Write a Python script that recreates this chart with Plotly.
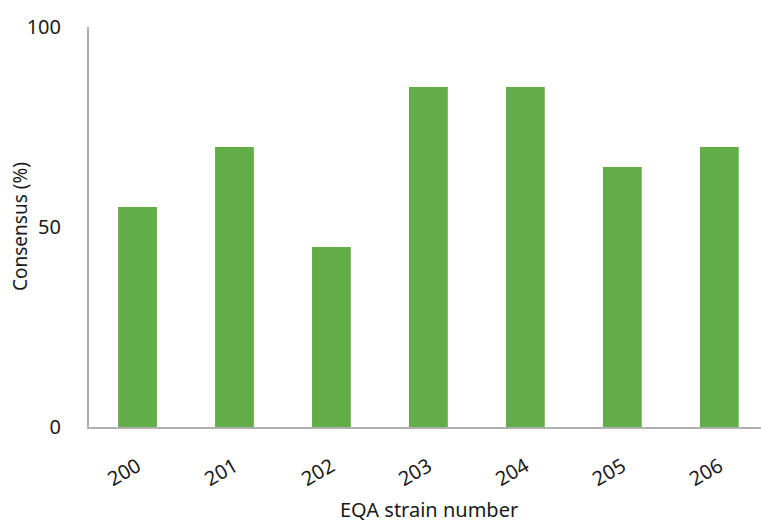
import plotly.graph_objects as go

strains = ["200", "201", "202", "203", "204", "205", "206"]
consensus = [55, 70, 45, 85, 85, 65, 70]

bar_color = "#62ad47"
axis_color = "#b0b0b0"
font_family = "Noto Sans"
text_color = "#1a1a1a"

fig = go.Figure(
    go.Bar(
        x=strains,
        y=consensus,
        marker=dict(color=bar_color, line=dict(width=0)),
        width=0.4,
    )
)

fig.update_layout(
    width=761,
    height=525,
    margin=dict(l=89, r=0, t=27, b=98),
    plot_bgcolor="white",
    paper_bgcolor="white",
    font=dict(family=font_family, size=18, color=text_color),
    showlegend=False,
)

fig.update_xaxes(
    type="category",
    range=[-0.5, 6.43],
    automargin=False,
    tickangle=-30,
    showline=True,
    linecolor=axis_color,
    linewidth=2,
    showgrid=False,
    ticks="",
    ticklabelstandoff=18,
    tickfont=dict(size=20),
)

fig.update_yaxes(
    range=[0, 100],
    automargin=False,
    tickvals=[0, 50, 100],
    showline=True,
    linecolor=axis_color,
    linewidth=2,
    showgrid=False,
    zeroline=False,
    ticks="",
    ticklabelstandoff=22,
    tickfont=dict(size=20),
)

# Axis titles placed as paper-anchored annotations
fig.add_annotation(
    text="EQA strain number",
    xref="paper", yref="paper",
    x=0.506, y=-0.205,
    xanchor="center", yanchor="middle",
    showarrow=False,
    font=dict(size=20, color=text_color),
)
fig.add_annotation(
    text="Consensus (%)",
    xref="paper", yref="paper",
    x=-0.1027, y=0.5025,
    xanchor="center", yanchor="middle",
    textangle=-90,
    showarrow=False,
    font=dict(size=19, color=text_color),
)

fig.write_html("out.html")
